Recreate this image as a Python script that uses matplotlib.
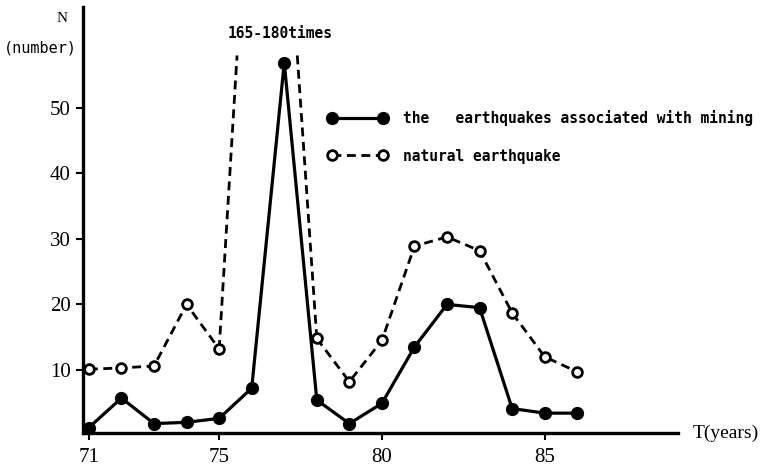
import matplotlib
matplotlib.use("Agg")
import matplotlib.pyplot as plt
import numpy as np

# years on the T axis
years = [71, 72, 73, 74, 75, 76, 77, 78, 79, 80, 81, 82, 83, 84, 85, 86]

# earthquakes associated with mining (filled circles)
mining = [1.2, 5.7, 1.8, 2.0, 2.6, 7.2, 56.9, 5.4, 1.8, 4.9, 13.5, 20.0, 19.5, 4.1, 3.4, 3.4]

# natural earthquakes (open circles); 76-77 are off scale (165-180 times)
natural_years = [71, 72, 73, 74, 75, 78, 79, 80, 81, 82, 83, 84, 85, 86]
natural = [10.1, 10.3, 10.6, 20.0, 13.2, 14.8, 8.2, 14.5, 28.9, 30.3, 28.2, 18.7, 12.0, 9.7]
# where the off-scale dashed segments are cut
peak_x = [75.55, 77.4]
peak_cut = 58

xticks = [71, 75, 80, 85]
yticks = [10, 20, 30, 40, 50]

mono = "DejaVu Sans Mono"
serif = "Liberation Serif"

fig = plt.figure(figsize=(7.62, 4.66), dpi=100)
ax = fig.add_axes([0.109, 0.071, 0.781, 0.914])

ax.plot(years, mining, color="black", lw=2.3, marker="o", ms=8.5,
        mfc="black", mec="black", label="the   earthquakes associated with mining", zorder=3)

dash = (3.2, 2.0)
# natural series: split around the off-scale peak
ax.plot(natural_years[:5], natural[:5], color="black", lw=2.0, dashes=dash,
        marker="o", ms=7, mfc="white", mec="black", mew=2.0,
        label="natural earthquake", zorder=3)
ax.plot(natural_years[5:], natural[5:], color="black", lw=2.0, dashes=dash,
        marker="o", ms=7, mfc="white", mec="black", mew=2.0, zorder=3)
ax.plot([natural_years[4], peak_x[0]], [natural[4], peak_cut], color="black",
        lw=2.0, dashes=dash, zorder=2)
ax.plot([peak_x[1], natural_years[5]], [peak_cut, natural[5]], color="black",
        lw=2.0, dashes=dash, zorder=2)

ax.set_xlim(70.82, 89.1)
ax.set_ylim(0.38, 65.4)

for s in ["top", "right"]:
    ax.spines[s].set_visible(False)
for s in ["left", "bottom"]:
    ax.spines[s].set_linewidth(2.4)

ax.set_xticks(xticks)
ax.set_yticks(yticks)
ax.tick_params(axis="both", direction="out", length=5, width=1.5, labelsize=15, pad=4)
ax.tick_params(axis="x", pad=6)
for lab in ax.get_xticklabels() + ax.get_yticklabels():
    lab.set_fontfamily(serif)

fig.text(0.074, 0.961, "N", ha="left", va="center",
         fontsize=11, fontfamily=serif)
fig.text(0.005, 0.897, "(number)", ha="left", va="center",
         fontsize=11, fontfamily=mono)
fig.text(0.909, 0.071, "T(years)", ha="left", va="center",
         fontsize=14, fontfamily=serif)
fig.text(0.299, 0.929, "165-180times", ha="left", va="center",
         fontsize=10.5, fontfamily=mono, fontweight="bold")

leg = ax.legend(loc="upper left", bbox_to_anchor=(0.43, 0.764),
                bbox_transform=fig.transFigure, frameon=False, numpoints=2,
                handlelength=4.1, handletextpad=1.05, labelspacing=1.55,
                borderpad=0, borderaxespad=0,
                prop={"family": mono, "size": 10.5, "weight": "bold"})

fig.savefig("out.png", dpi=100)
